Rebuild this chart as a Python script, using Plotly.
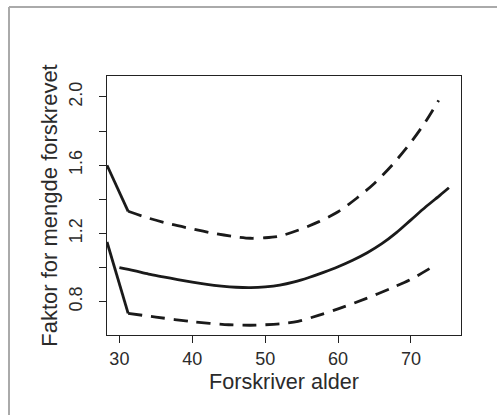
import plotly.graph_objects as go

# Fitted factor (solid)
fit_age = [30, 32, 34, 36, 38, 40, 42, 44, 46, 48, 50, 52, 54, 56, 58, 60, 62, 64, 66, 68, 70, 72, 74, 75.2]
fit_val = [1.0, 0.982, 0.962, 0.946, 0.93, 0.915, 0.902, 0.892, 0.885, 0.883, 0.887, 0.897, 0.916, 0.942, 0.972, 1.005, 1.043, 1.087, 1.14, 1.205, 1.28, 1.355, 1.425, 1.468]

# Upper confidence band (dashed)
up_age = [31.2, 34, 37, 40, 43, 46, 48, 50, 52, 54.5, 57.3, 60, 62.5, 65, 67.5, 70, 72, 73.8]
up_val = [1.33, 1.29, 1.255, 1.227, 1.2, 1.18, 1.172, 1.175, 1.185, 1.219, 1.268, 1.327, 1.405, 1.495, 1.605, 1.735, 1.855, 1.98]

# Lower confidence band (dashed)
lo_age = [31.2, 35, 40, 45, 48, 50, 52.5, 54.5, 57.3, 60, 63.9, 67.2, 69.8, 72.9]
lo_val = [0.732, 0.71, 0.683, 0.665, 0.662, 0.665, 0.672, 0.685, 0.72, 0.758, 0.82, 0.878, 0.927, 1.003]

# Left edge segments (solid)
up_edge_age = [28.3, 31.2]
up_edge_val = [1.6, 1.33]
lo_edge_age = [28.3, 31.2]
lo_edge_val = [1.15, 0.732]

x_ticks = [30, 40, 50, 60, 70]
y_ticks = [0.8, 1.0, 1.2, 1.4, 1.6, 1.8, 2.0]
y_labels = ["0.8", "", "1.2", "", "1.6", "", "2.0"]

LC = "#1a1a1a"
TC = "#2b2b2b"
FONT = "Liberation Sans, Arial, sans-serif"

fig = go.Figure()
fig.add_trace(go.Scatter(x=fit_age, y=fit_val, mode="lines",
                         line=dict(color=LC, width=2.8, shape="spline", smoothing=0.8), showlegend=False))
fig.add_trace(go.Scatter(x=up_age, y=up_val, mode="lines",
                         line=dict(color=LC, width=2.8, dash="14px,9px", shape="spline", smoothing=0.8), showlegend=False))
fig.add_trace(go.Scatter(x=lo_age, y=lo_val, mode="lines",
                         line=dict(color=LC, width=2.8, dash="14px,9px", shape="spline", smoothing=0.8), showlegend=False))
fig.add_trace(go.Scatter(x=up_edge_age, y=up_edge_val, mode="lines",
                         line=dict(color=LC, width=2.8), showlegend=False))
fig.add_trace(go.Scatter(x=lo_edge_age, y=lo_edge_val, mode="lines",
                         line=dict(color=LC, width=2.8), showlegend=False))

# outer light-gray frame (top and left edges)
fig.add_shape(type="line", xref="paper", yref="paper",
              x0=(9 - 107) / 354, x1=(500 - 107) / 354,
              y0=(335 - 7) / 259, y1=(335 - 7) / 259,
              line=dict(color="#aaaaaa", width=2))
fig.add_shape(type="line", xref="paper", yref="paper",
              x0=(9 - 107) / 354, x1=(9 - 107) / 354,
              y0=(335 - 7) / 259, y1=(335 - 420) / 259,
              line=dict(color="#aaaaaa", width=2))

fig.update_layout(
    width=497, height=415,
    margin=dict(l=107, r=36, t=76, b=80, autoexpand=False),
    paper_bgcolor="white", plot_bgcolor="white",
    font=dict(family=FONT, color=TC, size=18),
    xaxis=dict(range=[28.3, 76.86], tickvals=x_ticks, ticktext=[str(v) for v in x_ticks],
               showline=True, mirror=True, linecolor="#222", linewidth=1.2,
               ticks="outside", ticklen=7, tickcolor="#222", tickwidth=1,
               showgrid=False, zeroline=False, automargin=False,
               tickfont=dict(size=18),
               title=dict(text="Forskriver alder", font=dict(size=21.6), standoff=6)),
    yaxis=dict(range=[0.605, 2.123], tickvals=y_ticks, ticktext=y_labels,
               showline=True, mirror=True, linecolor="#222", linewidth=1.2,
               ticks="outside", ticklen=7, tickcolor="#222", tickwidth=1,
               showgrid=False, zeroline=False, tickangle=-90, automargin=False,
               ticklabelstandoff=10,
               tickfont=dict(size=18),
               title=dict(text="Faktor for mengde forskrevet", font=dict(size=22), standoff=2)),
)

fig.write_html("out.html", config={"displayModeBar": False},
               post_script="document.body.style.margin='0px';document.body.style.overflow='hidden';")
